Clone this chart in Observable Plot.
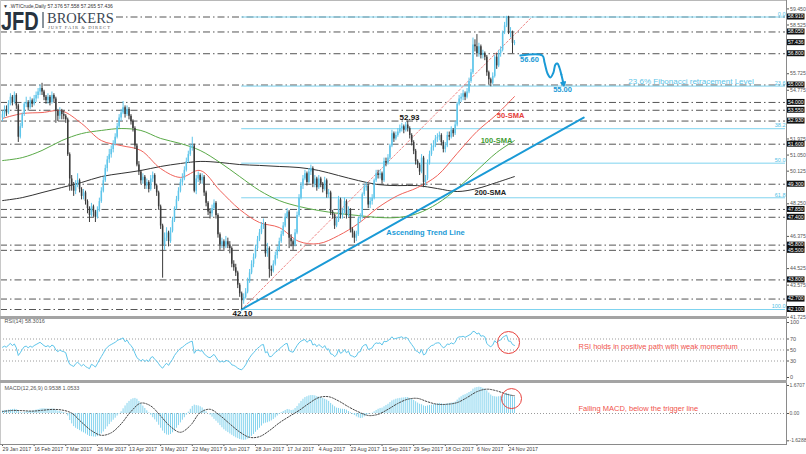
<!DOCTYPE html>
<html><head><meta charset="utf-8">
<script src="https://cdn.jsdelivr.net/npm/d3@7"></script>
<script src="https://cdn.jsdelivr.net/npm/@observablehq/plot@0.6"></script>
<style>
html,body{margin:0;padding:0;background:#fff;}
#wrap{position:relative;width:806px;height:454px;overflow:hidden;background:#fff;font-family:"Liberation Sans",Arial,sans-serif;}
#wrap svg{position:absolute;left:0;overflow:visible;}
.o{position:absolute;line-height:1;white-space:nowrap;}
</style></head><body><div id="wrap"></div>
<script>
// ---------------- DATA ----------------
const dateLabels = ["29 Jan 2017","16 Feb 2017","7 Mar 2017","26 Mar 2017","13 Apr 2017","3 May 2017","22 May 2017","9 Jun 2017","28 Jun 2017","17 Jul 2017","4 Aug 2017","23 Aug 2017","11 Sep 2017","29 Sep 2017","18 Oct 2017","6 Nov 2017","24 Nov 2017"];
const dateTickIdx = [0,16,32,48,64,80,96,112,128,144,160,176,192,208,224,240,256];

const open = [
53.1,53.3,53.6,53.4,53.9,54.3,54.0,54.4,53.8,52.0,
52.6,53.3,53.9,54.0,53.7,54.1,53.9,54.2,54.4,54.6,
54.8,54.6,54.3,54.1,54.3,54.0,54.4,54.2,53.5,53.2,
53.5,53.3,53.2,53.0,51.0,49.6,49.2,48.9,49.3,49.5,
49.0,48.6,48.8,48.3,47.9,47.5,48.0,47.7,47.4,47.8,
48.3,48.9,49.5,50.2,50.7,51.0,51.3,51.6,52.0,52.6,
53.1,53.4,53.7,53.3,53.6,53.2,52.9,52.5,51.5,50.4,
50.0,49.5,49.7,49.2,49.4,49.0,49.6,49.8,49.2,48.8,
48.0,46.9,45.8,46.2,46.5,46.0,46.6,47.2,47.9,48.4,
48.9,49.4,49.6,50.1,50.6,51.0,51.4,51.5,48.9,49.6,
49.8,49.5,49.7,48.8,48.2,47.7,47.6,47.9,48.2,47.5,
46.4,45.8,46.0,45.7,46.0,45.8,45.6,44.7,44.5,44.2,
43.5,43.0,42.6,42.8,43.1,43.7,44.2,44.7,45.1,45.6,
46.1,46.5,46.9,47.0,45.3,45.6,44.4,44.3,44.7,45.2,
45.5,46.0,46.4,46.9,47.4,47.7,46.2,46.0,45.8,46.5,
47.5,48.5,49.2,49.6,49.9,49.4,50.0,50.2,49.3,49.6,
49.1,49.6,49.3,49.0,49.5,48.7,48.8,47.7,47.5,46.9,
47.2,48.4,47.5,47.7,48.3,47.5,47.8,46.7,46.5,46.2,
46.4,47.3,47.4,48.7,49.1,49.2,48.1,48.3,48.5,49.5,
49.9,49.8,49.9,49.5,50.6,50.5,50.8,51.5,52.2,51.9,
52.1,52.3,52.5,52.6,52.4,52.7,52.5,52.1,51.7,51.2,
50.6,50.4,50.0,50.8,49.4,49.6,50.5,51.0,51.4,51.5,
51.9,52.0,52.1,51.7,51.3,51.5,52.1,52.0,52.4,52.2,
52.7,53.9,54.2,54.3,54.5,54.3,54.6,55.2,55.7,57.3,
57.2,56.8,57.2,56.7,56.8,56.6,55.7,55.3,55.1,55.5,
56.6,56.1,56.8,57.0,58.0,58.4,58.9,58.0,58.0,57.376];
const high = [
53.5,53.8,53.8,54.1,54.5,54.4,54.6,54.5,53.9,52.8,
53.4,54.0,54.3,54.1,54.3,54.2,54.4,54.6,54.8,55.0,
55.1,54.7,54.4,54.5,54.4,54.6,54.5,54.3,53.6,53.7,
53.6,53.5,53.3,53.1,51.1,49.8,49.4,49.5,49.9,49.6,
49.1,49.0,48.9,48.4,48.0,48.2,48.1,47.8,48.0,48.5,
49.1,49.7,50.4,50.9,51.3,51.5,51.8,52.2,52.8,53.3,
53.6,54.05,53.8,53.8,53.7,53.3,53.0,52.6,51.6,50.6,
50.1,49.9,49.8,49.6,49.5,49.8,50.0,49.9,49.3,48.9,
48.1,47.0,46.5,46.8,46.6,46.8,47.4,48.0,48.6,49.1,
49.6,49.9,50.3,50.8,51.2,51.6,52.0,51.6,49.8,50.0,
49.9,49.9,49.8,48.9,48.3,47.9,48.1,48.4,48.3,47.6,
46.5,46.2,46.1,46.3,46.2,46.0,45.7,44.9,44.7,44.3,
43.6,43.1,43.0,43.3,43.9,44.4,44.9,45.3,45.8,46.3,
46.7,47.1,47.3,47.1,45.9,45.7,44.6,44.9,45.4,45.7,
46.2,46.6,47.1,47.6,47.9,47.8,46.4,46.1,46.7,47.7,
48.7,49.4,49.8,50.1,50.0,50.2,50.4,50.3,49.8,49.7,
49.8,49.7,49.4,49.7,49.6,49.0,48.9,47.8,47.6,47.4,
48.6,48.5,47.9,48.5,48.4,48.0,47.9,46.8,46.6,46.6,
47.4,47.6,48.8,49.3,49.4,49.3,48.5,48.7,49.6,50.1,
50.1,50.1,50.0,50.8,50.8,51.0,51.6,52.4,52.3,52.3,
52.5,52.7,52.8,52.7,52.85,52.93,52.6,52.2,51.8,51.3,
50.7,50.5,51.0,50.9,49.8,50.7,51.2,51.6,51.8,52.1,
52.2,52.3,52.2,51.8,51.7,52.3,52.3,52.6,52.5,52.9,
54.0,54.4,54.5,54.7,54.6,54.8,55.4,55.9,57.7,57.6,
57.9,57.4,57.3,57.0,56.9,56.7,55.8,55.4,55.7,56.7,
56.8,57.0,57.2,58.1,58.6,58.95,58.95,58.3,58.1,57.558];
const low = [
52.9,53.1,53.2,53.3,53.8,53.8,53.9,53.6,51.7,51.9,
52.5,53.2,53.7,53.5,53.6,53.7,53.8,54.0,54.2,54.4,
54.4,54.1,53.9,53.9,53.8,53.9,54.0,52.8,52.9,53.0,
53.0,53.0,52.8,50.9,48.9,48.9,48.6,48.7,49.1,48.8,
48.4,48.4,48.1,47.6,47.1,47.4,47.4,47.1,47.3,47.7,
48.2,48.8,49.4,50.0,50.5,50.8,51.1,51.5,51.9,52.5,
52.9,53.3,53.1,53.2,53.0,52.7,52.3,51.3,50.3,49.8,
49.3,49.3,49.0,49.0,48.8,48.9,49.4,49.0,48.6,47.8,
46.7,43.9,45.5,46.0,45.7,45.9,46.5,47.1,47.8,48.3,
48.8,49.2,49.5,50.0,50.5,50.9,51.2,48.8,48.7,49.4,
49.3,49.3,48.6,48.0,47.5,47.3,47.4,47.8,47.3,46.2,
45.5,45.6,45.5,45.6,45.6,45.3,44.5,44.3,44.0,43.3,
42.8,42.1,42.4,42.7,43.0,43.6,44.1,44.5,45.0,45.5,
46.0,46.4,46.7,45.1,45.1,43.9,44.0,44.2,44.6,45.0,
45.4,45.9,46.3,46.8,47.3,45.6,45.7,45.5,45.7,46.4,
47.4,48.4,49.0,49.5,49.2,49.3,49.8,49.1,49.1,48.9,
49.0,49.1,48.8,48.9,48.5,48.5,47.5,47.3,46.7,46.8,
47.1,47.3,47.3,47.6,47.3,47.4,46.5,46.2,45.9,46.0,
46.3,47.1,47.3,48.6,48.9,47.9,47.9,48.1,48.4,49.4,
49.6,49.6,49.3,49.4,50.3,50.4,50.7,51.4,51.7,51.8,
52.0,52.2,52.3,52.2,52.3,52.3,51.9,51.5,51.0,50.4,
50.2,49.8,49.9,49.1,49.2,49.5,50.4,50.9,51.2,51.4,
51.7,51.8,51.5,51.1,51.1,51.4,51.8,51.9,52.0,52.1,
52.6,53.8,54.0,54.1,54.1,54.2,54.5,55.1,55.6,56.9,
56.6,56.6,56.5,56.5,56.4,55.5,55.0,54.9,55.0,55.4,
55.9,56.0,56.6,56.9,57.9,58.3,57.9,57.7,56.8,57.265];
const close = [
53.3,53.6,53.4,53.9,54.3,54.0,54.4,53.8,52.0,52.6,
53.3,53.9,54.0,53.7,54.1,53.9,54.2,54.4,54.6,54.8,
54.6,54.3,54.1,54.3,54.0,54.4,54.2,53.5,53.2,53.5,
53.3,53.2,53.0,51.0,49.6,49.2,48.9,49.3,49.5,49.0,
48.6,48.8,48.3,47.9,47.5,48.0,47.7,47.4,47.8,48.3,
48.9,49.5,50.2,50.7,51.0,51.3,51.6,52.0,52.6,53.1,
53.4,53.7,53.3,53.6,53.2,52.9,52.5,51.5,50.4,50.0,
49.5,49.7,49.2,49.4,49.0,49.6,49.8,49.2,48.8,48.0,
46.9,45.8,46.2,46.5,46.0,46.6,47.2,47.9,48.4,48.9,
49.4,49.6,50.1,50.6,51.0,51.4,51.5,48.9,49.6,49.8,
49.5,49.7,48.8,48.2,47.7,47.6,47.9,48.2,47.5,46.4,
45.8,46.0,45.7,46.0,45.8,45.6,44.7,44.5,44.2,43.5,
43.0,42.6,42.8,43.1,43.7,44.2,44.7,45.1,45.6,46.1,
46.5,46.9,47.0,45.3,45.6,44.4,44.3,44.7,45.2,45.5,
46.0,46.4,46.9,47.4,47.7,46.2,46.0,45.8,46.5,47.5,
48.5,49.2,49.6,49.9,49.4,50.0,50.2,49.3,49.6,49.1,
49.6,49.3,49.0,49.5,48.7,48.8,47.7,47.5,46.9,47.2,
48.4,47.5,47.7,48.3,47.5,47.8,46.7,46.5,46.2,46.4,
47.3,47.4,48.7,49.1,49.2,48.1,48.3,48.5,49.5,49.9,
49.8,49.9,49.5,50.6,50.5,50.8,51.5,52.2,51.9,52.1,
52.3,52.5,52.6,52.4,52.7,52.5,52.1,51.7,51.2,50.6,
50.4,50.0,50.8,49.4,49.6,50.5,51.0,51.4,51.5,51.9,
52.0,52.1,51.7,51.3,51.5,52.1,52.0,52.4,52.2,52.7,
53.9,54.2,54.3,54.5,54.3,54.6,55.2,55.7,57.3,57.2,
56.8,57.2,56.7,56.8,56.6,55.7,55.3,55.1,55.5,56.6,
56.1,56.8,57.0,58.0,58.4,58.9,58.0,58.0,57.4,57.436];

const smaIdx = [0,10,20,30,40,50,60,70,80,90,100,110,120,130,140,150,160,170,180,190,200,210,220,230,240,250,259];
const sma50  = [53.08,53.36,53.42,53.51,52.79,51.81,51.52,51.24,50.20,49.69,50.09,48.94,47.85,47.10,46.81,46.01,45.89,46.35,47.04,47.96,48.65,49.11,49.80,51.07,52.33,53.31,54.34];
const sma100 = [50.66,50.83,51.24,51.81,52.21,52.39,52.50,52.39,51.93,51.64,51.24,50.55,49.74,48.94,48.36,48.02,47.79,47.62,47.50,47.39,47.39,47.62,48.19,49.05,50.09,51.12,51.81];
const sma200 = [48.36,48.53,48.82,49.11,49.40,49.74,49.92,50.09,50.32,50.49,50.61,50.55,50.43,50.38,50.32,50.26,50.09,49.80,49.51,49.28,49.22,49.22,49.05,48.88,49.05,49.40,49.74];

const rsi = [
55,57,55,59,62,58,61,54,40,45,51,56,57,54,57,55,58,60,62,64,61,58,56,58,55,59,57,50,47,50,48,47,45,32,24,
22,20,25,28,24,21,24,20,18,16,24,22,19,25,32,38,44,51,55,58,60,62,64,67,69,70,72,65,68,62,58,53,44,36,33,
30,33,29,32,29,36,38,33,30,25,20,17,22,26,22,28,33,40,45,49,53,55,58,61,63,65,66,44,49,50,48,49,
43,40,37,36,39,42,37,31,28,30,28,31,30,28,23,22,20,17,15,14,18,23,30,36,41,45,49,53,56,59,60,45,47,38,
38,42,46,48,52,55,58,61,62,49,47,46,52,58,63,66,68,69,64,67,68,59,61,56,60,57,54,58,51,52,43,42,38,
41,51,44,46,51,45,48,40,39,37,39,46,47,56,59,60,51,52,54,60,63,62,63,59,66,65,67,70,
74,70,71,72,73,74,71,73,71,65,60,55,49,47,44,51,41,43,51,55,58,59,62,63,63,58,54,56,61,60,63,61,64,
72,74,74,75,73,75,77,79,84,83,79,81,75,76,74,62,58,56,59,67,63,67,68,73,75,77,66,66,60,58.3016];

const macdMain = [
0.15,0.17,0.18,0.2,0.22,0.24,0.25,0.22,0.12,0.05,0.03,0.06,0.1,0.12,0.14,0.15,0.17,0.2,0.23,0.26,
0.28,0.28,0.27,0.27,0.26,0.27,0.26,0.2,0.14,0.12,0.09,0.06,0.02,
-0.15,-0.42,-0.62,-0.78,-0.88,-0.95,-1.02,-1.1,-1.15,-1.22,-1.3,-1.37,-1.38,-1.4,
-1.41,-1.38,-1.32,-1.22,-1.1,-0.95,-0.8,-0.66,-0.52,-0.4,-0.28,-0.15,-0.03,0.1,
0.28,0.45,0.6,0.72,0.82,0.88,0.9,0.85,
0.72,0.58,0.44,0.3,0.16,0.03,-0.1,
-0.25,-0.38,-0.52,-0.7,-0.88,-1.05,-1.2,-1.28,-1.3,
-1.25,-1.15,-1.02,-0.88,-0.72,-0.56,-0.4,-0.25,-0.1,0.08,0.25,0.42,
0.5,0.47,0.45,0.4,0.33,0.22,0.1,0.0,
-0.1,-0.22,-0.35,-0.46,-0.58,-0.72,-0.85,-0.97,-1.06,-1.14,-1.22,-1.3,-1.38,-1.45,-1.5,-1.55,-1.58,-1.6,
-1.58,-1.52,-1.45,-1.36,-1.25,-1.12,-1.0,-0.88,-0.75,-0.62,-0.58,-0.55,-0.5,-0.44,-0.36,-0.26,-0.15,-0.05,
0.05,0.12,0.18,0.24,0.22,0.18,0.2,0.3,0.42,0.58,0.72,0.85,0.95,1.0,1.05,1.07,1.07,1.05,
1.0,0.98,0.95,0.9,0.85,0.8,0.72,0.6,0.5,0.4,0.32,0.3,0.26,0.25,0.24,0.2,0.12,0.05,-0.05,-0.12,-0.2,-0.26,-0.3,-0.28,
-0.2,-0.12,-0.05,-0.02,0.02,0.1,0.18,0.25,0.3,0.32,0.4,0.48,0.55,0.65,0.75,0.8,0.85,0.88,0.9,0.92,0.93,0.95,0.95,
0.9,0.85,0.78,0.7,0.62,0.55,0.52,0.45,0.42,0.45,0.48,
0.5,0.52,0.55,0.58,0.6,0.58,0.55,0.55,0.58,0.6,0.62,0.64,0.68,
0.8,0.92,1.0,1.08,1.12,1.18,1.25,1.32,1.45,1.52,1.55,1.57,1.55,
1.5,1.45,1.35,1.22,1.1,1.02,1.0,0.98,1.0,1.02,1.08,1.15,1.2,1.15,1.08,1.0,0.9538];

const sigIdx = [0,5,10,15,20,25,30,35,40,45,50,55,60,65,70,75,80,85,90,95,100,105,110,115,120,125,130,135,140,145,150,155,160,165,170,175,180,185,190,195,200,205,210,215,220,225,230,235,240,245,250,255,259];
const macdSignal = [0.12,0.18,0.17,0.14,0.19,0.24,0.21,0.02,-0.52,-1.02,-1.3,-1.15,-0.62,0.12,0.62,0.45,-0.15,-0.78,-1.12,-0.72,0.05,0.25,-0.12,-0.62,-1.1,-1.42,-1.38,-1.02,-0.56,-0.18,0.18,0.6,0.95,1.0,0.75,0.4,0.1,-0.12,-0.05,0.25,0.6,0.85,0.9,0.7,0.55,0.55,0.65,0.95,1.3,1.45,1.35,1.15,1.0533];

const levelLines = [58.91,58.05,56.8,55.0,54.0,53.55,52.93,51.6,49.3,47.85,47.4,45.8,45.5,43.8,42.7,42.1];
const priceBoxes = [58.91,58.05,57.436,56.8,55.0,54.0,53.55,52.93,51.6,49.3,47.85,47.4,45.8,45.5,43.8,42.7,42.1];
const priceTicks = [59.45,58.525,55.725,54.775,51.975,51.05,50.125,48.25,46.375,44.525,43.575,41.725];
const fibPct = ["0.0","23.6","38.2","50.0","61.8","100.0"];
const fibPrice = [58.91,54.94,52.49,50.51,48.52,42.10];
const rsiTicks = [100,70,50,30,0];
const macdTicks = [1.6707,0,-1.6288];

// ---------------- CHART ----------------
const wrap = document.getElementById("wrap");
const FONT = '"Liberation Sans", Arial, sans-serif';
const xDomain = [-1.01, 396.6];
const xEnd = 396.1;
const BULL = "#5ec5ea", BEAR = "#3b3b3b", BLUE = "#1a9ad6", FIB = "#7fd3ef";
const style = {background:"transparent", fontFamily:FONT, fontSize:"5.5px", color:"#555", overflow:"visible"};

const bars = close.map((c,i)=>({i, o:open[i], h:high[i], l:low[i], c}));
const up = bars.filter(b=>b.c>=b.o), dn = bars.filter(b=>b.c<b.o);

const trend = [{i:121, p:42.10},{i:294, p:53.13}];
const dotted = [{i:121, p:42.10},{i:267, p:58.82}];
const wave = [{i:262.0,p:56.697},{i:273.1,p:56.697},{i:274.2,p:56.295},{i:275.7,p:55.663},{i:277.2,p:55.433},{i:278.7,p:55.72},{i:279.7,p:56.18},{i:280.7,p:56.237},{i:281.7,p:56.008},{i:282.7,p:55.605}];
const notes = [
 {t:"52.93", i:205.9, p:53.16, c:"#111", s:8},
 {t:"42.10", i:121.4, p:41.90, c:"#111", s:8},
 {t:"50-SMA", i:257, p:53.22, c:"#e5403a", s:7.5},
 {t:"100-SMA", i:249.9, p:51.78, c:"#3f9c35", s:7.5},
 {t:"200-SMA", i:246.8, p:48.80, c:"#222", s:7.5},
 {t:"Ascending Trend Line", i:214, p:46.50, c:BLUE, s:7.5},
 {t:"56.60", i:266.6, p:56.44, c:BLUE, s:7.5},
 {t:"55.00", i:283.3, p:54.71, c:BLUE, s:7.5}
];

const pricePlot = Plot.plot({
  width:806, height:318, marginLeft:0, marginRight:20, marginTop:0, marginBottom:0,
  x:{domain:xDomain, axis:null},
  y:{domain:[41.6,59.6], range:[317.7,4.5], axis:null},
  style,
  marks:[
    Plot.ruleY(levelLines,{y:d=>d, x1:xDomain[0], x2:xEnd, stroke:"#555", strokeWidth:1, strokeDasharray:"7,3,1.5,3"}),
    Plot.ruleY(fibPrice,{y:d=>d, x1:121, x2:xEnd, stroke:FIB, strokeWidth:1}),
    Plot.text(fibPct,{x:xEnd, y:(d,k)=>fibPrice[k], text:d=>d, textAnchor:"end", dy:-3, fontSize:5.5, fill:"#4fbfe6"}),
    Plot.line(smaIdx,{x:d=>d, y:(d,k)=>sma200[k], stroke:"#333", strokeWidth:1, curve:"catmull-rom"}),
    Plot.line(smaIdx,{x:d=>d, y:(d,k)=>sma100[k], stroke:"#5aaa48", strokeWidth:1, curve:"catmull-rom"}),
    Plot.line(smaIdx,{x:d=>d, y:(d,k)=>sma50[k], stroke:"#f0625a", strokeWidth:1, curve:"catmull-rom"}),
    Plot.line(dotted,{x:"i", y:"p", stroke:"#f08a8a", strokeWidth:1, strokeDasharray:"2,2"}),
    Plot.line(trend,{x:"i", y:"p", stroke:BLUE, strokeWidth:2}),
    Plot.ruleX(dn,{x:"i", y1:"l", y2:"h", stroke:BEAR, strokeWidth:1}),
    Plot.ruleX(dn,{x:"i", y1:"o", y2:"c", stroke:BEAR, strokeWidth:1.5}),
    Plot.ruleX(up,{x:"i", y1:"l", y2:"h", stroke:BULL, strokeWidth:1}),
    Plot.ruleX(up,{x:"i", y1:"o", y2:"c", stroke:BULL, strokeWidth:1.5}),
    Plot.line(wave,{x:"i", y:"p", stroke:BLUE, strokeWidth:2, curve:"catmull-rom"}),
    Plot.arrow([0],{x1:282.7, y1:55.605, x2:284.0, y2:54.97, stroke:BLUE, strokeWidth:2, headLength:7}),
    ...notes.map(n=>Plot.text([n],{x:"i", y:"p", text:"t", fill:n.c, fontSize:n.s, fontWeight:"bold"})),
    Plot.text(["23.6% Fibonacci retracement Level"],{x:316.6, y:55.20, text:d=>d, textAnchor:"start", fill:"#5bc4e8", fontSize:8}),
    Plot.axisY({anchor:"right", ticks:priceTicks, tickFormat:d=>d.toFixed(3), tickSize:2, tickPadding:1.5, fontSize:5.2, dy:1.3})
  ]
});
pricePlot.style.top = "0px";
wrap.appendChild(pricePlot);

// black level boxes on the price axis, positioned by Plot's y scale
{
  const yS = pricePlot.scale("y");
  const g = d3.select(pricePlot).append("g");
  priceBoxes.forEach(v=>{
    const yy = yS.apply(v);
    g.append("rect").attr("x",787).attr("y",yy-3).attr("width",17.5).attr("height",6).attr("fill","#111");
    g.append("text").attr("x",795.8).attr("y",yy+1.8).attr("text-anchor","middle").attr("font-size",5.1)
      .attr("font-family",FONT).attr("fill","#fff").text(v.toFixed(3));
  });
}

const rsiPlot = Plot.plot({
  width:806, height:63, marginLeft:0, marginRight:20, marginTop:0, marginBottom:0,
  x:{domain:xDomain, axis:null},
  y:{domain:[0,100], range:[59,4], axis:null},
  style,
  marks:[
    Plot.ruleY([70,50,30],{y:d=>d, x1:xDomain[0], x2:xEnd, stroke:"#9a9a9a", strokeDasharray:"1,2"}),
    Plot.line(rsi,{x:(d,i)=>i, y:d=>d, stroke:"#5ec5ea", strokeWidth:1}),
    Plot.axisY({anchor:"right", ticks:rsiTicks, tickFormat:d=>String(d), tickSize:2, tickPadding:1.5, fontSize:5.5}),
    Plot.text(["RSI(14) 58.3016"],{frameAnchor:"top-left", text:d=>d, dx:4, dy:1, fontSize:5.5, fill:"#555"}),
    Plot.dot([0],{x:256, y:63.6, r:11, stroke:"#e8413c", fill:"none", strokeWidth:1}),
    Plot.text(["RSI holds in positive path with weak momentum"],{x:291.4, y:56.4, text:d=>d, textAnchor:"start", fill:"#f0524c", fontSize:7.5})
  ]
});
rsiPlot.style.top = "318px";
wrap.appendChild(rsiPlot);

const macdPlot = Plot.plot({
  width:806, height:72, marginLeft:0, marginRight:20, marginTop:0, marginBottom:10,
  x:{domain:xDomain, axis:null},
  y:{domain:[-1.83,1.83], range:[61.7,0.3], axis:null},
  style,
  marks:[
    Plot.ruleY([0],{y:d=>d, x1:xDomain[0], x2:xEnd, stroke:"#9a9a9a", strokeDasharray:"1,2"}),
    Plot.ruleX(macdMain,{x:(d,i)=>i, y1:0, y2:d=>d, stroke:"#86d4ee", strokeWidth:1}),
    Plot.line(sigIdx,{x:d=>d, y:(d,k)=>macdSignal[k], stroke:"#444", strokeWidth:1, strokeDasharray:"1.5,1.5", curve:"catmull-rom"}),
    Plot.axisY({anchor:"right", ticks:macdTicks, tickFormat:d=>d===0?"0.00":d.toFixed(4), tickSize:2, tickPadding:1, fontSize:5}),
    Plot.axisX({anchor:"bottom", ticks:dateTickIdx, tickFormat:d=>dateLabels[dateTickIdx.indexOf(d)], textAnchor:"start", tickSize:2, tickPadding:1, fontSize:5.2, fill:"#444"}),
    Plot.text(["MACD(12,26,9) 0.9538 1.0533"],{frameAnchor:"top-left", text:d=>d, dx:4, dy:4, fontSize:5.5, fill:"#555"}),
    Plot.dot([0],{x:257.5, y:0.89, r:10, stroke:"#e8413c", fill:"none", strokeWidth:1}),
    Plot.text(["Falling MACD, below the trigger line"],{x:291.4, y:0.3, text:d=>d, textAnchor:"start", fill:"#f0524c", fontSize:7.5})
  ]
});
macdPlot.style.top = "382px";
wrap.appendChild(macdPlot);

// frame, separators, logo and title
const deco = `
<div class="o" style="left:0;top:0;width:786px;height:1px;background:#b8b8b8"></div>
<div class="o" style="left:0;top:0;width:1px;height:444px;background:#c8c8c8"></div>
<div class="o" style="left:786px;top:0;width:1px;height:444px;background:#8a8a8a"></div>
<div class="o" style="left:0;top:316px;width:787px;height:3px;background:#a4a4a4"></div>
<div class="o" style="left:0;top:380px;width:787px;height:3px;background:#a4a4a4"></div>
<div class="o" style="left:0;top:444px;width:787px;height:1px;background:#8a8a8a"></div>
<div class="o" style="left:1px;top:8px;width:113px;height:23px;background:#fff"></div>
<div class="o" style="left:1px;top:6.7px;font:bold 25px 'Liberation Sans',Arial,sans-serif;color:#27333f;transform:scaleX(0.8);transform-origin:left top;">JFD</div>
<div class="o" style="left:42px;top:12px;width:1.5px;height:16px;background:#8a949d"></div>
<div class="o" style="left:47px;top:9.8px;font:14.5px 'Liberation Serif','Times New Roman',serif;color:#3c4753;">BROKERS</div>
<div class="o" style="left:48px;top:25px;font:4.6px 'Liberation Serif','Times New Roman',serif;color:#555;letter-spacing:1.05px;">JUST FAIR &amp; DIRECT</div>
<div class="o" style="left:3px;top:2.5px;font:5px 'Liberation Sans',Arial,sans-serif;color:#333;">&#9660; .WTICrude,Daily 57.376 57.558 57.265 57.436</div>`;
wrap.insertAdjacentHTML("beforeend", deco);
</script></body></html>
